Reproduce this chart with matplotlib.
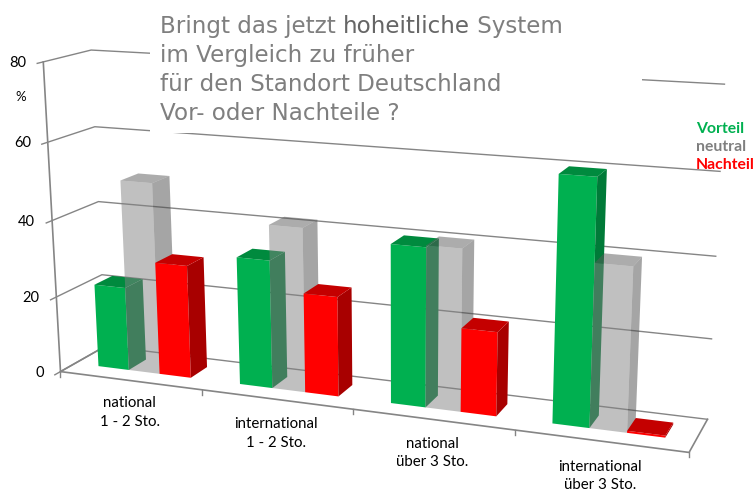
# encoding: utf-8
import matplotlib
matplotlib.use('Agg')
import matplotlib.pyplot as plt
from matplotlib.patches import Polygon, Rectangle
import numpy as np

# Data
categories = ['national\n1 - 2 Sto.', 'international\n1 - 2 Sto.', 'national\nüber 3 Sto.', 'international\nüber 3 Sto.']
vorteil = [22, 33, 40, 60]
neutral = [50, 42, 40.5, 40]
nachteil = [29.5, 25.5, 21, 0.5]
yticks = [0, 20, 40, 60, 80]

# The 3D box of the chart: (category, depth, value) -> pixel, fitted on the box corners
calib = [
    (0, 0, 0, 61, 370), (1, 0, 0, 202, 391), (2, 0, 0, 353, 411), (3, 0, 0, 515, 433), (4, 0, 0, 689, 451),
    (0, 0, 20, 57, 295), (0, 0, 40, 52, 220), (0, 0, 60, 48, 142), (0, 0, 80, 43, 62),
    (0, 1, 0, 106, 349), (0, 1, 20, 102, 273), (0, 1, 40, 97, 201), (0, 1, 60, 95, 127), (0, 1, 80, 91, 51),
    (4, 1, 0, 707, 418), (4, 1, 20, 712, 338), (4, 1, 40, 716, 255), (4, 1, 60, 720, 172), (4, 1, 80, 725, 85),
]

def fit_camera(points):
    rows = []
    for u, d, v, px, py in points:
        X = [u, d, v / 20.0, 1.0]
        px = px / 100.0
        py = py / 100.0
        rows.append(X + [0, 0, 0, 0] + [-px * c for c in X])
        rows.append([0, 0, 0, 0] + X + [-py * c for c in X])
    _, _, vt = np.linalg.svd(np.array(rows))
    return vt[-1].reshape(3, 4)

camera = fit_camera(calib)

def project(u, d, v):
    h = camera.dot([u, d, v / 20.0, 1.0])
    return (100.0 * h[0] / h[2], 100.0 * h[1] / h[2])

fig = plt.figure(figsize=(7.55, 4.93), dpi=100)
ax = fig.add_axes([0, 0, 1, 1])
ax.set_xlim(0, 755)
ax.set_ylim(493, 0)
ax.axis('off')

LINE = '#858585'
FONT = 'Lato'

# walls
for t in yticks:
    pts = [project(0, -0.12, t), project(0, 0, t), project(0, 1, t), project(4, 1, t)]
    ax.plot([p[0] for p in pts], [p[1] for p in pts], color=LINE, lw=1, zorder=1)

# floor and axes
pts = [project(0, 1, 0), project(0, 0, 0), project(4, 0, 0), project(4, 1, 0)]
ax.plot([p[0] for p in pts], [p[1] for p in pts], color=LINE, lw=1.2, zorder=1)
pts = [project(0, 0, 0), project(0, 0, 80)]
ax.plot([p[0] for p in pts], [p[1] for p in pts], color=LINE, lw=1.2, zorder=1)
for i in range(5):
    x0, y0 = project(i, 0, 0)
    ax.plot([x0, x0], [y0, y0 + 5], color=LINE, lw=1, zorder=1)

# bars
BAR_W = 0.22
MARGIN = 0.17
D0 = 0.32
D1 = 0.72

def draw_bar(u0, value, front, side, top, alpha, z):
    u1 = u0 + BAR_W
    faces = [
        ([(u0, D0, 0), (u1, D0, 0), (u1, D0, value), (u0, D0, value)], front),
        ([(u1, D0, 0), (u1, D1, 0), (u1, D1, value), (u1, D0, value)], side),
        ([(u0, D0, value), (u1, D0, value), (u1, D1, value), (u0, D1, value)], top),
    ]
    for corners, color in faces:
        xy = [project(*c) for c in corners]
        ax.add_patch(Polygon(xy, closed=True, facecolor=color, edgecolor='none', alpha=alpha, zorder=z))

for i in range(len(categories)):
    u = i + MARGIN
    draw_bar(u, vorteil[i], '#00B050', '#007A38', '#008A3E', 1.0, 2)
    draw_bar(u + BAR_W, neutral[i], '#828282', '#4D4D4D', '#5B5B5B', 0.5, 3)
    draw_bar(u + 2 * BAR_W, nachteil[i], '#FF0000', '#A80000', '#C40000', 1.0, 4)

# white box behind the question
ax.add_patch(Rectangle((150, 8), 492, 125, facecolor='white', edgecolor='none', zorder=5))

# y labels
for t in yticks:
    x0 = project(0, -0.12, t)[0]
    y0 = project(0, 0, t)[1]
    ax.text(x0 - 11, y0 + 1, str(t), ha='right', va='center', fontsize=10.5, family=FONT, color='black', zorder=6)
ax.text(21, 97, '%', ha='center', va='center', fontsize=9.5, family=FONT, color='black', zorder=6)

# category labels
label_pos = [(129.5, 412.5), (276, 433.5), (432, 453), (600, 476)]
for name, (lx, ly) in zip(categories, label_pos):
    ax.text(lx, ly, name, ha='center', va='center', fontsize=10.8, family=FONT, color='black',
            linespacing=1.45, zorder=6)

# title, one word darker
GREY = '#7F7F7F'
title_lines = [
    [('Bringt das jetzt ', GREY), ('hoheitliche', '#666666'), (' System', GREY)],
    [('im Vergleich zu früher', GREY)],
    [('für den Standort Deutschland', GREY)],
    [('Vor- oder Nachteile ?', GREY)],
]
baselines = [33, 62, 91, 120]
renderer = fig.canvas.get_renderer()
for parts, base in zip(title_lines, baselines):
    x = 160.0
    for s, col in parts:
        txt = ax.text(x, base, s, ha='left', va='baseline', fontsize=16.6, family='DejaVu Sans', color=col, zorder=6)
        x += txt.get_window_extent(renderer).width

# legend
legend = [('Vorteil', '#00B050', 129), ('neutral', '#7F7F7F', 147), ('Nachteil', '#FF0000', 165)]
for s, col, ly in legend:
    ax.text(696, ly, s, ha='left', va='center', fontsize=11.3, family=FONT, weight='bold', color=col, zorder=6)

fig.savefig('out.png', dpi=100)
